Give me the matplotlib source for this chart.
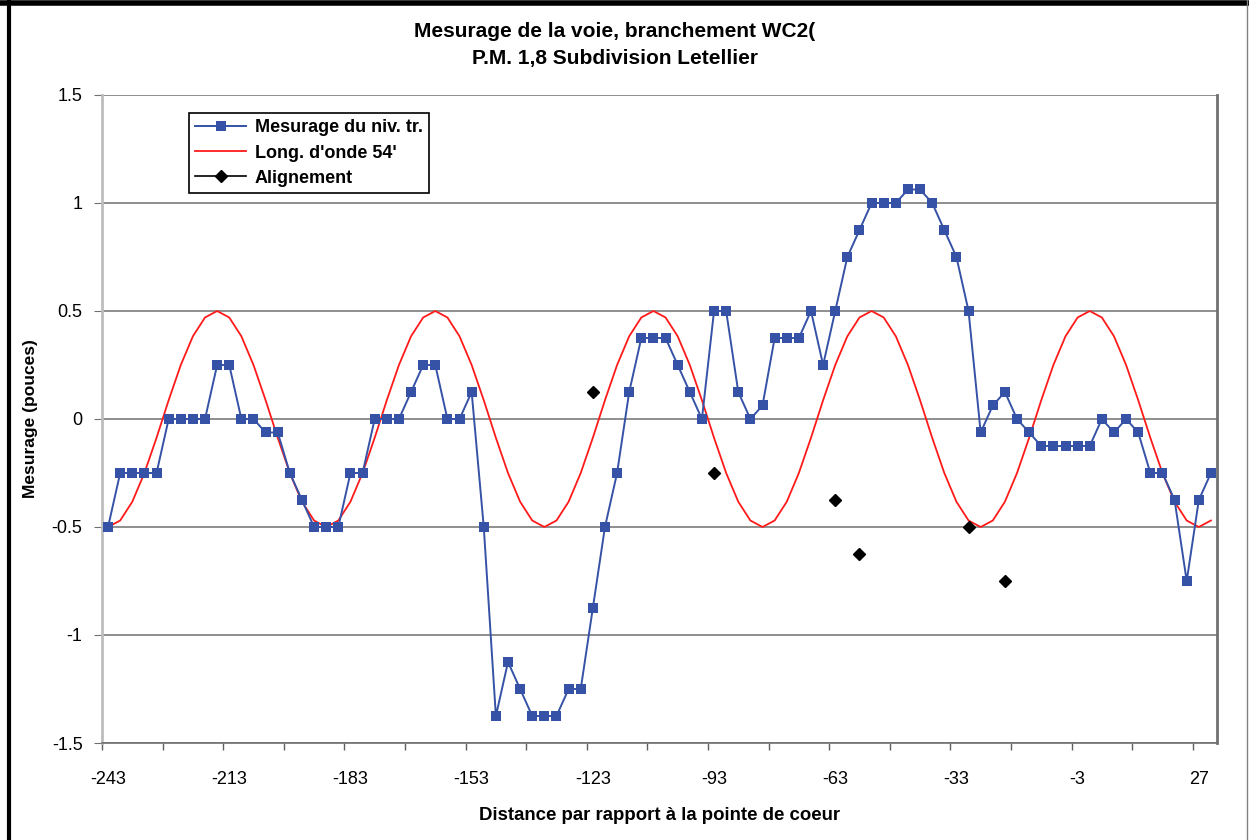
import numpy as np
import matplotlib.pyplot as plt
from matplotlib.lines import Line2D

# distances (pieds), une mesure tous les 3'
distances = list(range(-243, 31, 3))

mesurage = [-0.5, -0.25, -0.25, -0.25, -0.25, 0, 0, 0, 0, 0.25,
            0.25, 0, 0, -0.0625, -0.0625, -0.25, -0.375, -0.5, -0.5, -0.5,
            -0.25, -0.25, 0, 0, 0, 0.125, 0.25, 0.25, 0, 0,
            0.125, -0.5, -1.375, -1.125, -1.25, -1.375, -1.375, -1.375, -1.25, -1.25,
            -0.875, -0.5, -0.25, 0.125, 0.375, 0.375, 0.375, 0.25, 0.125, 0,
            0.5, 0.5, 0.125, 0, 0.0625, 0.375, 0.375, 0.375, 0.5, 0.25,
            0.5, 0.75, 0.875, 1.0, 1.0, 1.0, 1.0625, 1.0625, 1.0, 0.875,
            0.75, 0.5, -0.0625, 0.0625, 0.125, 0, -0.0625, -0.125, -0.125, -0.125,
            -0.125, -0.125, 0, -0.0625, 0, -0.0625, -0.25, -0.25, -0.375, -0.75,
            -0.375, -0.25]

onde_54 = [-0.5, -0.47, -0.383, -0.25, -0.087, 0.087, 0.25, 0.383, 0.47,
           0.5, 0.47, 0.383, 0.25, 0.087, -0.087, -0.25, -0.383, -0.47,
           -0.5, -0.47, -0.383, -0.25, -0.087, 0.087, 0.25, 0.383, 0.47,
           0.5, 0.47, 0.383, 0.25, 0.087, -0.087, -0.25, -0.383, -0.47,
           -0.5, -0.47, -0.383, -0.25, -0.087, 0.087, 0.25, 0.383, 0.47,
           0.5, 0.47, 0.383, 0.25, 0.087, -0.087, -0.25, -0.383, -0.47,
           -0.5, -0.47, -0.383, -0.25, -0.087, 0.087, 0.25, 0.383, 0.47,
           0.5, 0.47, 0.383, 0.25, 0.087, -0.087, -0.25, -0.383, -0.47,
           -0.5, -0.47, -0.383, -0.25, -0.087, 0.087, 0.25, 0.383, 0.47,
           0.5, 0.47, 0.383, 0.25, 0.087, -0.087, -0.25, -0.383, -0.47,
           -0.5, -0.47]

align_x = [-123, -93, -63, -57, -30, -21]
align_y = [0.125, -0.25, -0.375, -0.625, -0.5, -0.75]

etiquettes_x = list(range(-243, 28, 30))

plt.rcParams['font.family'] = ['Liberation Sans', 'DejaVu Sans']

fig = plt.figure(figsize=(12.49, 8.4), dpi=100)
ax = fig.add_axes([102/1249, 1-743/840, 1115/1249, 648/840])

bleu = '#3552A6'
ax.plot(distances, mesurage, color=bleu, lw=1.4, marker='s', ms=7.6,
        mew=0, mfc=bleu, zorder=3)
ax.plot(distances, onde_54, color='#ff1a1a', lw=1.3, zorder=2)
ax.plot(align_x, align_y, ls='none', marker='D', ms=6, color='black', zorder=4)

ax.set_xlim(-244.5, 31.5)
ax.set_ylim(-1.5, 1.5)
ax.set_yticks([-1.5, -1, -0.5, 0, 0.5, 1, 1.5])
ax.set_yticklabels(['-1.5', '-1', '-0.5', '0', '0.5', '1', '1.5'])
ax.yaxis.grid(True, color='#707070', lw=1.1)
ax.set_axisbelow(True)

ax.set_xticks(etiquettes_x)
ax.set_xticklabels([str(v) for v in etiquettes_x])
ax.set_xticks(np.arange(-244.5, 32, 15), minor=True)
ax.tick_params(axis='x', which='major', length=0, pad=20, labelsize=13)
ax.tick_params(axis='x', which='minor', length=5, color='#606060', width=1)
ax.tick_params(axis='y', length=6, color='#707070', pad=8, labelsize=13)

ax.spines['top'].set_visible(False)
ax.spines['left'].set_color('#bdbdbd')
ax.spines['left'].set_linewidth(2)
ax.spines['right'].set_color('#707070')
ax.spines['right'].set_linewidth(2)
ax.spines['bottom'].set_color('#707070')
ax.spines['bottom'].set_linewidth(1.2)

ax.set_xlabel('Distance par rapport à la pointe de coeur', fontsize=13.4,
              fontweight='bold', labelpad=14)
ax.set_ylabel('Mesurage (pouces)', fontsize=12.5, fontweight='bold',
              labelpad=10)

fig.text(0.492, 0.963, 'Mesurage de la voie, branchement WC2(', ha='center',
         va='center', fontsize=15, fontweight='bold')
fig.text(0.492, 0.930, 'P.M. 1,8 Subdivision Letellier', ha='center',
         va='center', fontsize=15, fontweight='bold')

poignees = [Line2D([], [], color=bleu, lw=1.4, marker='s', ms=7.6, mew=0),
            Line2D([], [], color='#ff1a1a', lw=1.3),
            Line2D([], [], color='black', lw=1.2, marker='D', ms=6)]
leg = ax.legend(poignees, ['Mesurage du niv. tr.', "Long. d'onde 54'", 'Alignement'],
                loc='upper left', bbox_to_anchor=(0.078, 0.972), borderaxespad=0,
                fancybox=False, edgecolor='black', framealpha=1, handlelength=2.8,
                borderpad=0.35, labelspacing=0.45, handletextpad=0.5,
                prop={'weight': 'bold', 'size': 13})
leg.get_frame().set_linewidth(1.2)

# cadre de l'image
fig.add_artist(Line2D([0, 1], [1-3/840, 1-3/840], transform=fig.transFigure,
                      color='black', lw=4))
fig.add_artist(Line2D([8.5/1249, 8.5/1249], [0, 1], transform=fig.transFigure,
                      color='black', lw=3))
fig.add_artist(Line2D([1247/1249, 1247/1249], [0, 1], transform=fig.transFigure,
                      color='#808080', lw=1))

fig.savefig('out.png', dpi=100)
